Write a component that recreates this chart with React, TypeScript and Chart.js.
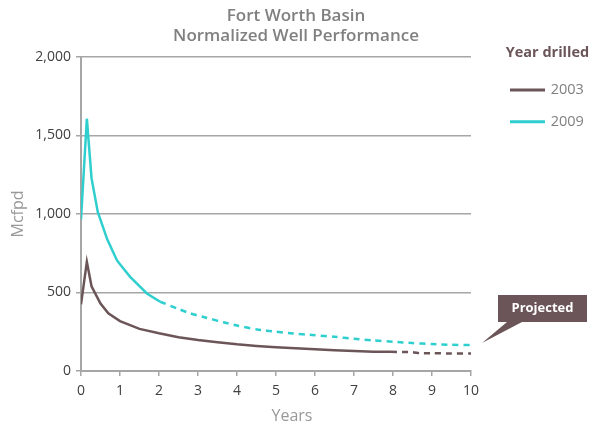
import React, { useEffect, useRef } from "react";
import { Chart, registerables } from "chart.js";

Chart.register(...registerables);

const titleLines = ["Fort Worth Basin", "Normalized Well Performance"];
const legendTitle = "Year drilled";
const seriesNames = ["2003", "2009"];
const xAxisTitle = "Years";
const yAxisTitle = "Mcfpd";
const calloutText = "Projected";

const yearsActual2003 = [0, 0.15, 0.27, 0.5, 0.7, 1.0, 1.5, 2.0, 2.5, 3, 3.5, 4, 4.5, 5, 5.5, 6, 6.5, 7, 7.5, 7.95];
const mcfpdActual2003 = [425, 695, 540, 430, 367, 318, 268, 240, 215, 197, 183, 170, 160, 152, 145, 138, 132, 127, 123, 122];
const yearsProj2003 = [7.95, 8.5, 8.7, 9, 9.5, 10];
const mcfpdProj2003 = [122, 120, 113, 113, 112, 112];

const yearsActual2009 = [0, 0.15, 0.27, 0.43, 0.67, 0.92, 1.0, 1.26, 1.5, 1.69, 2.03];
const mcfpdActual2009 = [965, 1607, 1228, 1013, 840, 706, 680, 600, 540, 494, 441];
const yearsProj2009 = [2.03, 2.5, 2.8, 3.19, 3.65, 4, 4.51, 5, 5.37, 6, 6.49, 7, 7.5, 8, 8.5, 9, 9.5, 10];
const mcfpdProj2009 = [441, 395, 367, 341, 310, 290, 265, 250, 240, 228, 218, 205, 195, 186, 178, 172, 167, 165];

const color2003 = "#6B5558";
const color2009 = "#2FCFCF";
const FONT = "'Open Sans', 'Noto Sans', sans-serif";

const toPoints = (xs: number[], ys: number[]) => xs.map((x, i) => ({ x, y: ys[i] }));

const overlayPlugin = {
  id: "overlay",
  afterDraw(chart: any) {
    const ctx = chart.ctx as CanvasRenderingContext2D;
    ctx.save();
    // Title
    ctx.fillStyle = "#808080";
    ctx.font = `600 17px ${FONT}`;
    ctx.textAlign = "center";
    ctx.textBaseline = "alphabetic";
    ctx.fillText(titleLines[0], 296, 20.7);
    ctx.fillText(titleLines[1], 296, 40.7);
    // Legend
    ctx.textAlign = "left";
    ctx.fillStyle = color2003;
    ctx.font = `bold 14.5px ${FONT}`;
    ctx.fillText(legendTitle, 505.7, 57.3);
    const items = [
      { name: seriesNames[0], color: color2003, y: 90 },
      { name: seriesNames[1], color: color2009, y: 121.7 },
    ];
    for (const it of items) {
      ctx.strokeStyle = it.color;
      ctx.lineWidth = 3;
      ctx.beginPath();
      ctx.moveTo(510, it.y);
      ctx.lineTo(545, it.y);
      ctx.stroke();
      ctx.fillStyle = "#808080";
      ctx.font = `14.5px ${FONT}`;
      ctx.textBaseline = "middle";
      ctx.fillText(it.name, 550.7, it.y);
    }
    // X axis title
    ctx.textAlign = "center";
    ctx.textBaseline = "alphabetic";
    ctx.fillStyle = "#999999";
    ctx.font = `16px ${FONT}`;
    ctx.fillText(xAxisTitle, 292, 420.7);
    // Callout
    ctx.fillStyle = color2003;
    ctx.beginPath();
    ctx.moveTo(498, 295);
    ctx.lineTo(587, 295);
    ctx.lineTo(587, 322);
    ctx.lineTo(522, 322);
    ctx.lineTo(482, 343);
    ctx.lineTo(507, 322);
    ctx.lineTo(498, 322);
    ctx.closePath();
    ctx.fill();
    ctx.fillStyle = "#ffffff";
    ctx.font = `bold 13px ${FONT}`;
    ctx.textBaseline = "middle";
    ctx.fillText(calloutText, 542.5, 308.5);
    ctx.restore();
  },
};

export default function App() {
  const ref = useRef<HTMLCanvasElement | null>(null);
  useEffect(() => {
    if (!ref.current) return;
    const lineBase = { borderWidth: 2.5, pointRadius: 0, fill: false, tension: 0.2 };
    const chart = new Chart(ref.current, {
      type: "line",
      data: {
        datasets: [
          { ...lineBase, label: seriesNames[0], data: toPoints(yearsActual2003, mcfpdActual2003), borderColor: color2003, tension: 0 },
          { ...lineBase, label: seriesNames[0] + " projected", data: toPoints(yearsProj2003, mcfpdProj2003), borderColor: color2003, borderDash: [6, 5] },
          { ...lineBase, label: seriesNames[1], data: toPoints(yearsActual2009, mcfpdActual2009), borderColor: color2009, tension: 0 },
          { ...lineBase, label: seriesNames[1] + " projected", data: toPoints(yearsProj2009, mcfpdProj2009), borderColor: color2009, borderDash: [6, 5] },
        ],
      },
      options: {
        animation: false,
        responsive: true,
        maintainAspectRatio: false,
        layout: { padding: { top: 57, right: 126, left: 0, bottom: 0 } },
        plugins: { legend: { display: false }, title: { display: false }, tooltip: { enabled: false } },
        scales: {
          x: {
            type: "linear",
            min: 0,
            max: 10,
            ticks: { stepSize: 1, color: "#404040", font: { family: FONT, size: 14 }, padding: 7 },
            grid: { drawOnChartArea: false, drawTicks: true, tickLength: 5, color: "#a6a6a6", lineWidth: 1.5 },
            border: { color: "#a6a6a6", width: 2 },
            afterFit: (s: any) => { s.height = 55; },
          },
          y: {
            min: 0,
            max: 2000,
            ticks: { stepSize: 500, color: "#404040", font: { family: FONT, size: 14 }, padding: 5 },
            grid: { color: "#a6a6a6", lineWidth: 1.5, tickLength: 5 },
            border: { color: "#a6a6a6", width: 2 },
            title: { display: true, text: yAxisTitle, color: "#999999", font: { family: FONT, size: 16 }, padding: { top: 9, bottom: 0 } },
            afterFit: (s: any) => { s.width = 81; },
          },
        },
      },
      plugins: [overlayPlugin],
    });
    return () => chart.destroy();
  }, []);
  return (
    <div style={{ position: "absolute", left: 0, top: 0, width: 597, height: 426 }}>
      <canvas ref={ref} />
    </div>
  );
}
